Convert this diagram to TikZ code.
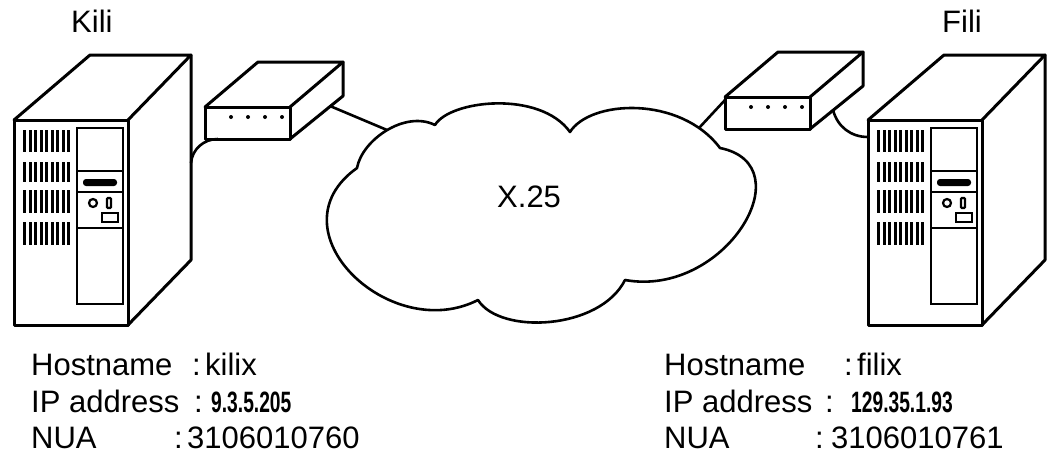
\documentclass[tikz,border=0pt]{standalone}
\usepackage{fontspec}
\setmainfont{Liberation Sans}
\newcommand\lblsize{\fontsize{31}{37}\selectfont}
\newcommand\ipnum[1]{\scalebox{0.62}[0.95]{\bfseries #1}}
\tikzset{
  outline/.style={line width=3pt, line join=round, line cap=round},
  cloudline/.style={line width=2.6pt, line join=round},
  panelline/.style={line width=2.4pt},
  lbl/.style={inner sep=0pt, anchor=base west, font=\lblsize},
  cable/.style={line width=2.6pt},
  % tower computer, origin at the top-left corner of the front face
  server/.pic={
    \draw[outline] (0,0) rectangle (114,-205);
    \draw[outline] (0,0) -- (76,65) -- (177,65) -- (114,0);
    \draw[outline] (177,65) -- (177,-140) -- (114,-205);
    \foreach \vtop/\vbot in {10/32,42/62,70/93,102/125}{
      \foreach \i in {0,...,8}{
        \fill ({9+\i*5.5},-\vtop) rectangle ({12.4+\i*5.5},-\vbot);
      }
    }
    \draw[panelline] (63,-8) rectangle (109,-184);
    \draw[panelline] (63,-51) -- (109,-51);
    \draw[panelline] (63,-72) -- (109,-72);
    \draw[panelline] (63,-108) -- (109,-108);
    \fill[rounded corners=3pt] (69,-59) rectangle (103,-66);
    \draw[line width=2.2pt] (79,-83) circle (4pt);
    \draw[line width=2.2pt, rounded corners=1pt] (93,-78) rectangle (97,-88);
    \draw[line width=2.2pt] (88,-93) rectangle (104,-102);
  },
  % modem box, origin at the top-left corner of the front face
  modem/.pic={
    \draw[outline] (0,0) rectangle (85,-32);
    \draw[outline] (0,0) -- (53,45) -- (138,45) -- (85,0);
    \draw[outline] (138,45) -- (138,11) -- (85,-32);
    \foreach \dx in {26,43,60,77}{
      \fill (\dx,-10) circle (2pt);
    }
  }
}
\begin{document}
\begin{tikzpicture}[x=1pt,y=1pt]
  \useasboundingbox (0,0) rectangle (1052,-453);

  % machines
  \pic at (14,-120) {server};
  \pic at (868,-120) {server};
  \pic at (205,-107) {modem};
  \pic at (725,-97) {modem};

  % X.25 network cloud
  \draw[cloudline]
    (357,-168) .. controls (362,-140) and (405,-110) .. (435,-125)
    .. controls (450,-100) and (540,-90) .. (570,-132)
    .. controls (590,-100) and (680,-95) .. (720,-148)
    .. controls (805,-165) and (725,-298) .. (625,-280)
    .. controls (600,-330) and (500,-335) .. (478,-300)
    .. controls (390,-345) and (270,-230) .. (357,-168) -- cycle;
  \node[lbl] (net) at (497,-207) {X.25};

  % attachment points
  \coordinate (lsrv) at (191,-163);
  \coordinate (lmodB) at (218,-139);
  \coordinate (lmodR) at (330,-106);
  \coordinate (cloudL) at (387,-130);
  \coordinate (cloudR) at (699,-128);
  \coordinate (rmodL) at (725,-100);
  \coordinate (rmodB) at (833,-110);
  \coordinate (rsrv) at (868,-137);

  % cables
  \draw[cable] (lsrv) to[out=85,in=180] (lmodB);
  \draw[cable] (lmodR) -- (cloudL);
  \draw[cable] (rmodL) -- (cloudR);
  \draw[cable] (rmodB) to[out=-75,in=180] (rsrv);

  % host names
  \node[lbl] (kili) at (71,-32) {Kili};
  \node[lbl] (fili) at (942,-32) {Fili};

  % Kili details
  \node[lbl] (khostk) at (31,-375) {Hostname};
  \node[lbl] (khostc) at (192,-375) {:};
  \node[lbl] (khostv) at (205,-375) {kilix};
  \node[lbl] (kipk) at (31,-412) {IP address};
  \node[lbl] (kipc) at (194,-412) {:};
  \node[lbl] (kipv) at (211,-412) {\ipnum{9.3.5.205}};
  \node[lbl] (knuak) at (31,-448) {NUA};
  \node[lbl] (knuac) at (174,-448) {:};
  \node[lbl] (knuav) at (187,-448) {3106010760};

  % Fili details
  \node[lbl] (fhostk) at (664,-375) {Hostname};
  \node[lbl] (fhostc) at (844,-375) {:};
  \node[lbl] (fhostv) at (857,-375) {filix};
  \node[lbl] (fipk) at (664,-412) {IP address};
  \node[lbl] (fipc) at (825,-412) {:};
  \node[lbl] (fipv) at (851,-412) {\ipnum{129.35.1.93}};
  \node[lbl] (fnuak) at (664,-448) {NUA};
  \node[lbl] (fnuac) at (815,-448) {:};
  \node[lbl] (fnuav) at (831,-448) {3106010761};
\end{tikzpicture}
\end{document}
